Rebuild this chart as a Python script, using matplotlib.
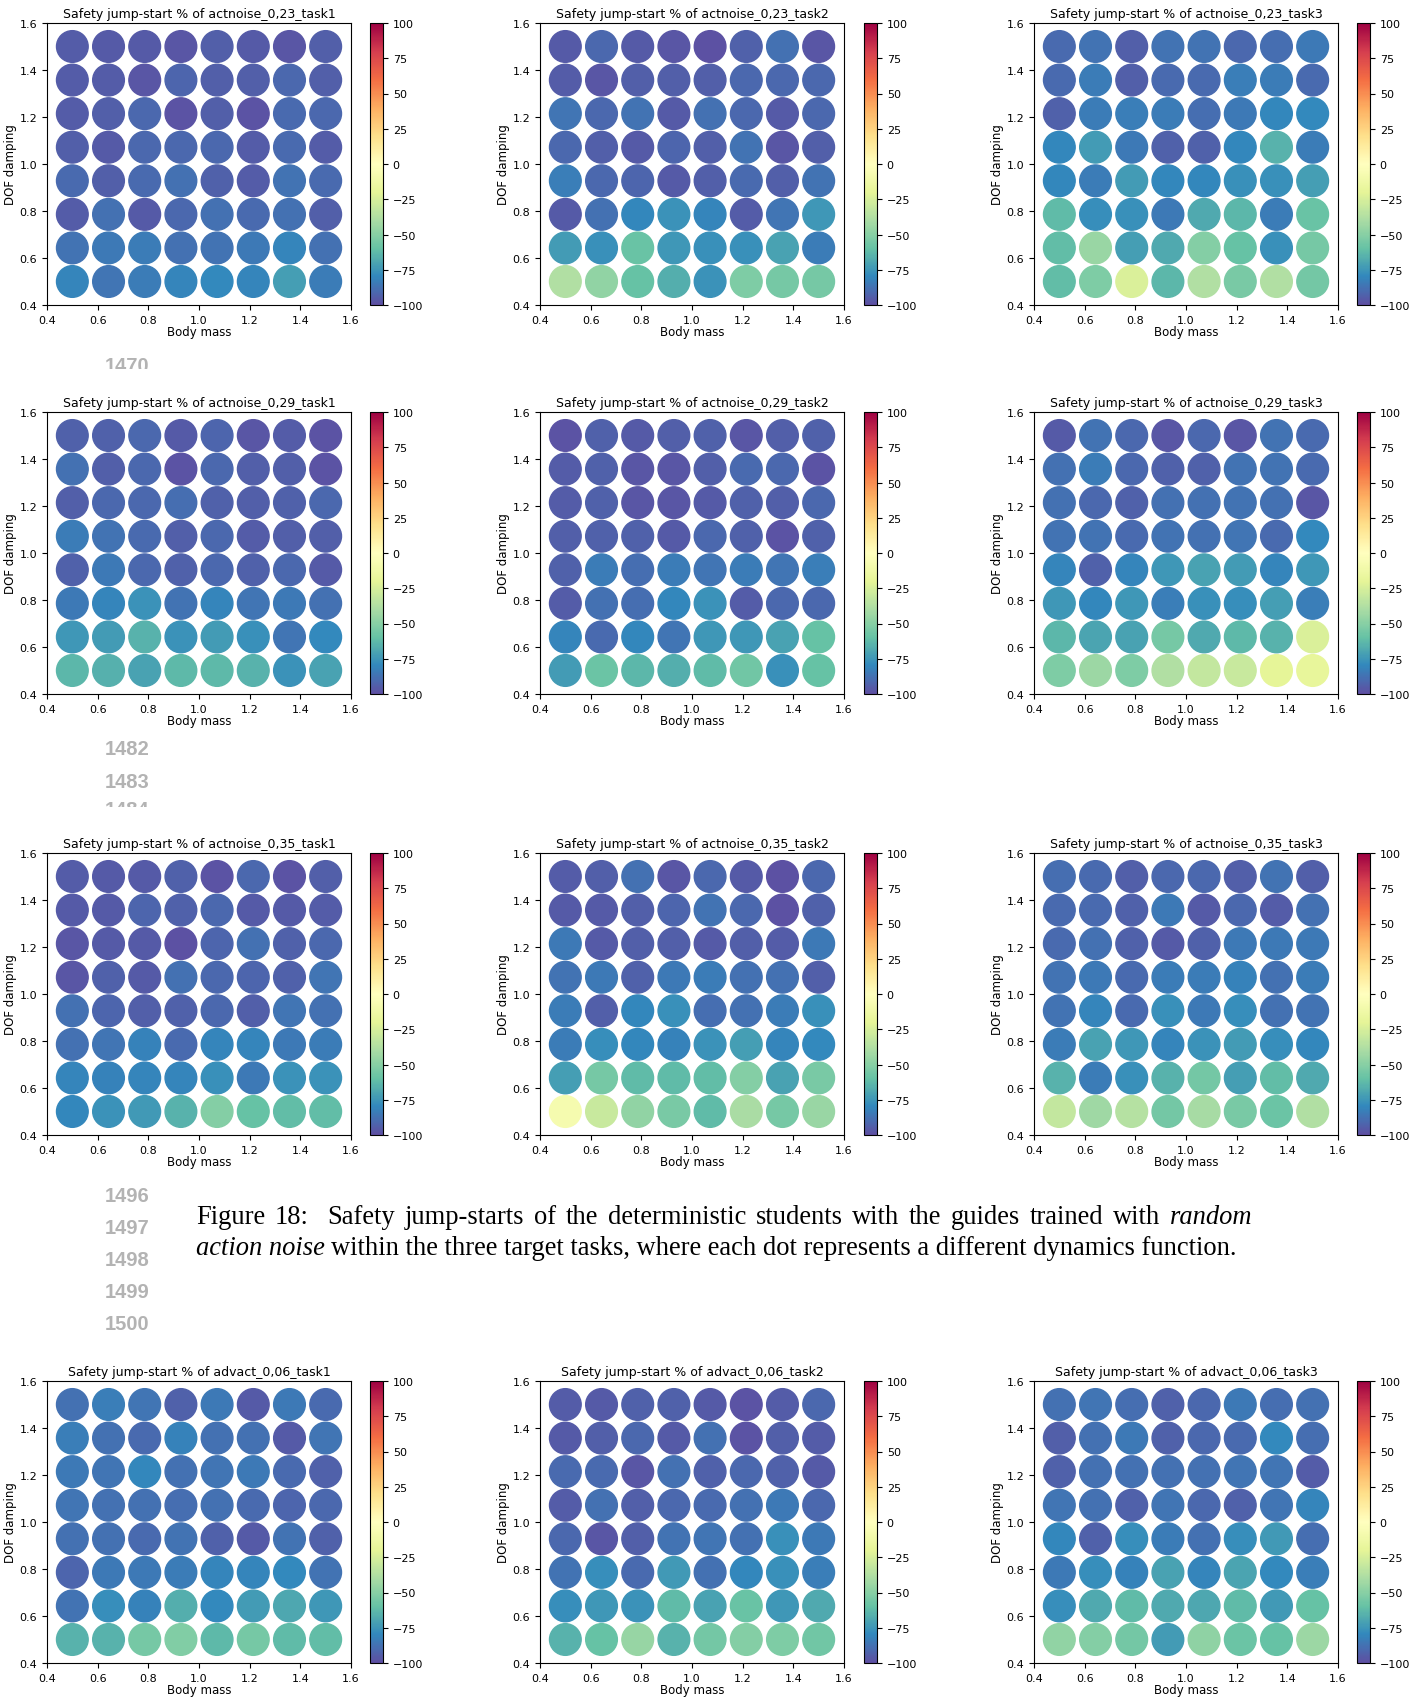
import numpy as np
import matplotlib
matplotlib.use("Agg")
import matplotlib.pyplot as plt
from matplotlib.transforms import Bbox

# grid of dynamics parameters
body_mass = np.linspace(0.5, 1.5, 8)
dof_damping = np.linspace(1.5, 0.5, 8)   # rows below are listed top row first

# safety jump-start (%) per dynamics function, rows from damping 1.5 down to 0.5
actnoise_023_task1 = [
    [-95, -96, -96, -97, -94, -96, -97, -94],
    [-95, -95, -97, -92, -94, -94, -91, -94],
    [-95, -94, -91, -98, -94, -98, -90, -91],
    [-94, -96, -91, -91, -91, -95, -90, -95],
    [-90, -94, -90, -88, -93, -95, -87, -90],
    [-95, -88, -96, -91, -88, -90, -88, -94],
    [-87, -85, -84, -88, -87, -85, -81, -88],
    [-81, -86, -84, -81, -79, -81, -72, -84],
]
actnoise_023_task2 = [
    [-96, -91, -96, -97, -99, -93, -88, -97],
    [-95, -97, -94, -94, -94, -91, -91, -91],
    [-86, -91, -87, -96, -88, -91, -96, -91],
    [-91, -94, -96, -92, -94, -87, -97, -94],
    [-83, -91, -92, -96, -94, -90, -94, -87],
    [-96, -88, -80, -76, -81, -95, -86, -75],
    [-73, -77, -59, -75, -77, -77, -71, -84],
    [-38, -47, -60, -67, -76, -53, -55, -55],
]
actnoise_023_task3 = [
    [-90, -87, -94, -87, -87, -91, -89, -85],
    [-90, -84, -94, -90, -90, -83, -84, -90],
    [-93, -84, -83, -84, -89, -85, -80, -79],
    [-80, -73, -85, -93, -93, -80, -65, -84],
    [-80, -84, -73, -80, -80, -77, -77, -72],
    [-62, -78, -77, -85, -68, -64, -84, -59],
    [-61, -45, -72, -68, -51, -60, -77, -55],
    [-61, -53, -24, -64, -38, -54, -38, -56],
]
actnoise_029_task1 = [
    [-93, -93, -91, -96, -92, -97, -95, -98],
    [-88, -94, -91, -98, -91, -94, -94, -98],
    [-94, -91, -91, -89, -93, -94, -93, -91],
    [-84, -87, -90, -94, -91, -95, -94, -94],
    [-93, -85, -91, -93, -91, -93, -91, -96],
    [-85, -81, -76, -87, -81, -86, -85, -88],
    [-75, -73, -65, -76, -73, -77, -86, -79],
    [-64, -66, -71, -63, -63, -65, -76, -71],
]
actnoise_029_task2 = [
    [-98, -93, -96, -94, -93, -97, -94, -93],
    [-95, -93, -97, -97, -94, -90, -91, -98],
    [-95, -93, -97, -97, -96, -93, -94, -91],
    [-94, -93, -93, -96, -91, -93, -98, -93],
    [-93, -84, -89, -84, -86, -84, -86, -83],
    [-95, -88, -89, -80, -76, -95, -91, -91],
    [-81, -90, -80, -86, -75, -75, -71, -60],
    [-73, -58, -64, -67, -62, -57, -77, -60],
]
actnoise_029_task3 = [
    [-96, -87, -91, -97, -91, -97, -87, -90],
    [-88, -84, -91, -93, -93, -87, -87, -90],
    [-88, -91, -93, -88, -88, -87, -88, -97],
    [-87, -87, -90, -87, -88, -86, -90, -79],
    [-81, -93, -81, -75, -71, -73, -81, -75],
    [-75, -80, -75, -83, -77, -78, -72, -83],
    [-64, -70, -71, -55, -68, -63, -65, -24],
    [-53, -44, -53, -38, -32, -30, -20, -18],
]
actnoise_035_task1 = [
    [-95, -96, -96, -93, -98, -91, -98, -94],
    [-96, -96, -92, -93, -91, -96, -96, -95],
    [-97, -96, -96, -99, -92, -88, -93, -91],
    [-97, -93, -96, -88, -91, -92, -93, -86],
    [-88, -92, -94, -93, -91, -94, -86, -88],
    [-88, -86, -82, -90, -81, -81, -85, -84],
    [-81, -82, -81, -81, -77, -85, -76, -76],
    [-80, -76, -74, -65, -51, -60, -61, -61],
]
actnoise_035_task2 = [
    [-95, -94, -88, -97, -91, -96, -99, -91],
    [-96, -96, -94, -92, -87, -91, -99, -93],
    [-85, -96, -94, -94, -96, -94, -95, -85],
    [-87, -85, -93, -85, -84, -88, -88, -94],
    [-84, -94, -80, -77, -89, -88, -84, -77],
    [-84, -78, -80, -82, -76, -72, -81, -79],
    [-72, -55, -62, -62, -61, -51, -71, -54],
    [-8, -30, -47, -54, -62, -40, -55, -45],
]
actnoise_035_task3 = [
    [-89, -90, -94, -91, -91, -94, -87, -94],
    [-90, -90, -93, -85, -96, -91, -95, -88],
    [-90, -88, -93, -96, -93, -85, -85, -85],
    [-87, -85, -90, -84, -84, -82, -88, -84],
    [-87, -81, -90, -77, -85, -78, -88, -87],
    [-84, -71, -75, -81, -76, -73, -78, -80],
    [-65, -84, -77, -65, -56, -72, -61, -68],
    [-32, -43, -36, -56, -41, -54, -58, -38],
]
advact_006_task1 = [
    [-88, -83, -86, -93, -85, -96, -85, -90],
    [-83, -88, -90, -82, -88, -88, -96, -86],
    [-85, -86, -80, -88, -86, -85, -90, -93],
    [-86, -88, -88, -89, -88, -90, -92, -91],
    [-88, -88, -90, -87, -93, -96, -87, -93],
    [-92, -85, -85, -84, -81, -81, -79, -87],
    [-87, -78, -82, -67, -79, -73, -69, -75],
    [-65, -65, -55, -52, -63, -55, -62, -61],
]
advact_006_task2 = [
    [-95, -96, -93, -93, -96, -98, -95, -91],
    [-96, -94, -91, -96, -88, -98, -94, -95],
    [-90, -90, -97, -88, -93, -91, -93, -96],
    [-95, -88, -94, -91, -90, -88, -85, -91],
    [-91, -97, -94, -87, -86, -88, -77, -85],
    [-87, -78, -90, -74, -88, -80, -77, -83],
    [-78, -75, -76, -62, -71, -59, -75, -68],
    [-65, -60, -46, -65, -56, -51, -53, -57],
]
advact_006_task3 = [
    [-88, -86, -89, -93, -91, -85, -89, -88],
    [-94, -88, -85, -93, -91, -90, -79, -89],
    [-93, -88, -88, -88, -88, -86, -86, -95],
    [-86, -88, -93, -86, -91, -93, -86, -81],
    [-80, -93, -78, -84, -88, -78, -74, -89],
    [-85, -78, -82, -71, -81, -70, -79, -83],
    [-78, -68, -62, -68, -69, -62, -74, -60],
    [-47, -51, -56, -73, -48, -58, -60, -44],
]

panel_names = [
    ["actnoise_0,23_task1", "actnoise_0,23_task2", "actnoise_0,23_task3"],
    ["actnoise_0,29_task1", "actnoise_0,29_task2", "actnoise_0,29_task3"],
    ["actnoise_0,35_task1", "actnoise_0,35_task2", "actnoise_0,35_task3"],
    ["advact_0,06_task1", "advact_0,06_task2", "advact_0,06_task3"],
]
panel_values = [
    [actnoise_023_task1, actnoise_023_task2, actnoise_023_task3],
    [actnoise_029_task1, actnoise_029_task2, actnoise_029_task3],
    [actnoise_035_task1, actnoise_035_task2, actnoise_035_task3],
    [advact_006_task1, advact_006_task2, advact_006_task3],
]

W, H = 1423, 1699
fig = plt.figure(figsize=(W / 100, H / 100), dpi=100)
fig.patch.set_facecolor("white")


def px_box(x0, y0, x1, y1):
    # pixel box (top-left origin) -> figure fraction rect
    return [x0 / W, 1 - y1 / H, (x1 - x0) / W, (y1 - y0) / H]


col_x = [47, 540, 1034]
cbar_x = [370, 864, 1357]
row_y = [24, 413, 854, 1382]
ax_w, ax_h = 304, 282

mx, my = np.meshgrid(body_mass, dof_damping)

for r in range(4):
    for c in range(3):
        x0, y0 = col_x[c], row_y[r]
        ax = fig.add_axes(px_box(x0, y0, x0 + ax_w, y0 + ax_h))
        vals = np.array(panel_values[r][c], dtype=float)
        sc = ax.scatter(mx.ravel(), my.ravel(), c=vals.ravel(), cmap="Spectral_r",
                        vmin=-100, vmax=100, s=520)
        ax.set_xlim(0.4, 1.6)
        ax.set_ylim(0.4, 1.6)
        ax.set_xticks(np.arange(0.4, 1.61, 0.2))
        ax.set_yticks(np.arange(0.4, 1.61, 0.2))
        ax.tick_params(labelsize=8)
        ax.set_xlabel("Body mass", fontsize=8.5, labelpad=0.5)
        ax.set_ylabel("DOF damping", fontsize=8.5, labelpad=2)
        ax.set_title("Safety jump-start % of " + panel_names[r][c], fontsize=9, pad=4)

        cax = fig.add_axes(px_box(cbar_x[c], y0, cbar_x[c] + 13, y0 + ax_h))
        cb = fig.colorbar(sc, cax=cax)
        cb.set_ticks(np.arange(-100, 101, 25))
        cb.ax.tick_params(labelsize=8)

# page line numbers around the figure block
gray = "#b3b3b3"
numbers = [("1482", 750), ("1483", 782), ("1496", 1196), ("1497", 1229),
           ("1498", 1261), ("1499", 1293), ("1500", 1325)]
for label, yy in numbers:
    fig.text(127 / W, 1 - yy / H, label, ha="center", va="center", fontsize=14.5,
             color=gray, fontweight="bold", family="Liberation Sans")

# partly covered line numbers
for label, yy, cut in [("1470", 367, 370), ("1484", 811, 808)]:
    t = fig.text(127 / W, 1 - yy / H, label, ha="center", va="center", fontsize=14.5,
                 color=gray, fontweight="bold", family="Liberation Sans")
    t.set_clip_box(Bbox.from_extents(0, H - cut, W, H))
    t.set_clip_on(True)

# caption: first line justified, second line ragged
renderer = fig.canvas.get_renderer()
cap_kw = dict(fontsize=19.1, family="Liberation Serif", va="baseline", ha="left")
x_start, x_right = 196, 1252
y1 = 1 - 1224 / H
y2 = 1 - 1255 / H

line1 = "Figure 18:  Safety jump-starts of the deterministic students with the guides trained with"
words = [(w, "normal") for w in line1.split(" ") if w] + [("random", "italic")]
gap_weight = [2 if w == "18:" else 1 for w, _ in words[:-1]]
texts = [fig.text(0, y1, w, style=s, **cap_kw) for w, s in words]
widths = [t.get_window_extent(renderer).width for t in texts]
space = (x_right - x_start - sum(widths)) / sum(gap_weight)
x = x_start
for i, t in enumerate(texts):
    t.set_x(x / W)
    if i < len(gap_weight):
        x += widths[i] + space * gap_weight[i]

t = fig.text(x_start / W, y2, "action noise", style="italic", **cap_kw)
x_end = t.get_window_extent(renderer).x1
fig.text((x_end + 6) / W, y2,
         "within the three target tasks, where each dot represents a different dynamics function.",
         **cap_kw)

fig.savefig("out.png", dpi=100, facecolor="white")
